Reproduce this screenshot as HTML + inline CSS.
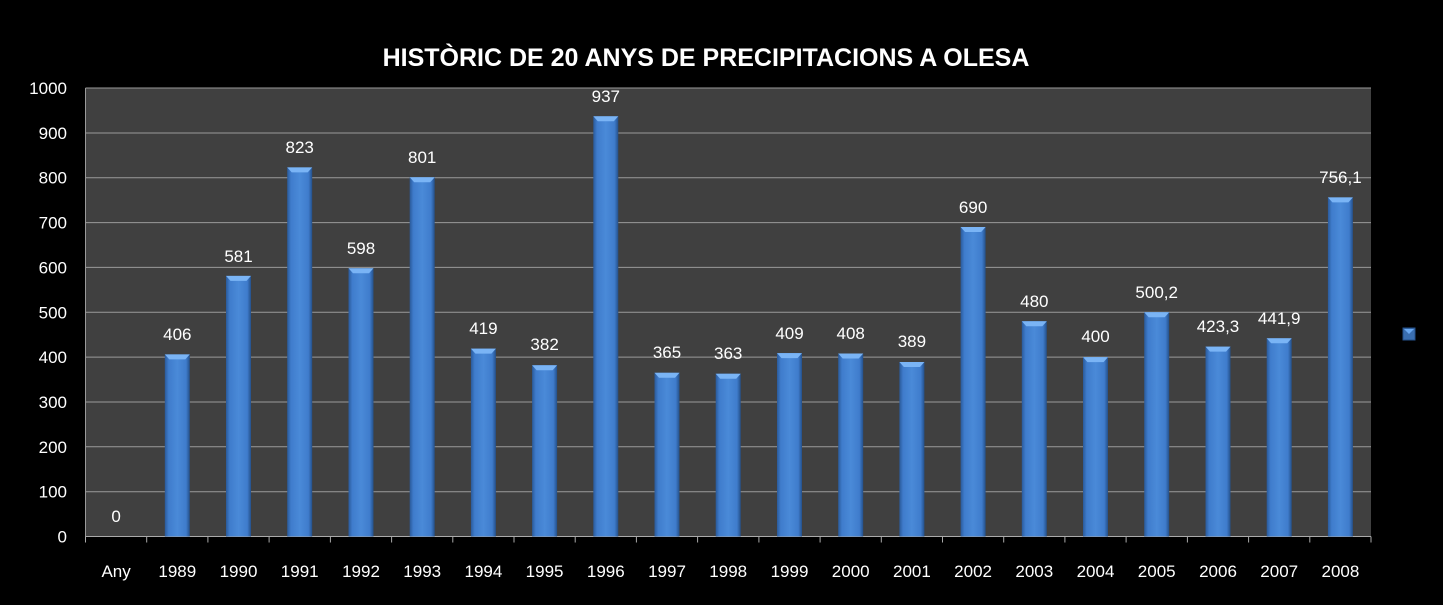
<!DOCTYPE html>
<html><head><meta charset="utf-8"><style>
html,body{margin:0;padding:0;background:#000;}
svg{display:block;font-family:"Liberation Sans",sans-serif;}
</style></head><body>
<svg width="1443" height="605" viewBox="0 0 1443 605" xmlns="http://www.w3.org/2000/svg">
<defs>
<linearGradient id="g" x1="0" x2="1" y1="0" y2="0">
<stop offset="0" stop-color="#2a5a9a"/>
<stop offset="0.15" stop-color="#3f7ccc"/>
<stop offset="0.5" stop-color="#4a8ad8"/>
<stop offset="0.85" stop-color="#3f7ccc"/>
<stop offset="1" stop-color="#24508a"/>
</linearGradient>
</defs>
<rect width="1443" height="605" fill="#000"/>
<rect x="85.5" y="88" width="1285.5" height="448.5" fill="#404040"/>
<g stroke="#9a9a9a" stroke-width="1">
<line x1="85.5" x2="1371" y1="88" y2="88"/>
<line x1="85.5" x2="1371" y1="133" y2="133"/>
<line x1="85.5" x2="1371" y1="177.7" y2="177.7"/>
<line x1="85.5" x2="1371" y1="222.6" y2="222.6"/>
<line x1="85.5" x2="1371" y1="267.4" y2="267.4"/>
<line x1="85.5" x2="1371" y1="312.3" y2="312.3"/>
<line x1="85.5" x2="1371" y1="357.1" y2="357.1"/>
<line x1="85.5" x2="1371" y1="402" y2="402"/>
<line x1="85.5" x2="1371" y1="446.8" y2="446.8"/>
<line x1="85.5" x2="1371" y1="491.7" y2="491.7"/>
<line x1="85.5" x2="1371" y1="536.5" y2="536.5" stroke="#aaa"/>
<line x1="85.5" x2="85.5" y1="88" y2="536.5"/>
</g>
<g stroke="#aaa" stroke-width="1">
<line x1="85.5" x2="85.5" y1="536.5" y2="542.5"/><line x1="146.7" x2="146.7" y1="536.5" y2="542.5"/><line x1="207.9" x2="207.9" y1="536.5" y2="542.5"/><line x1="269.1" x2="269.1" y1="536.5" y2="542.5"/><line x1="330.4" x2="330.4" y1="536.5" y2="542.5"/><line x1="391.6" x2="391.6" y1="536.5" y2="542.5"/><line x1="452.8" x2="452.8" y1="536.5" y2="542.5"/><line x1="514" x2="514" y1="536.5" y2="542.5"/><line x1="575.2" x2="575.2" y1="536.5" y2="542.5"/><line x1="636.4" x2="636.4" y1="536.5" y2="542.5"/><line x1="697.6" x2="697.6" y1="536.5" y2="542.5"/><line x1="758.9" x2="758.9" y1="536.5" y2="542.5"/><line x1="820.1" x2="820.1" y1="536.5" y2="542.5"/><line x1="881.3" x2="881.3" y1="536.5" y2="542.5"/><line x1="942.5" x2="942.5" y1="536.5" y2="542.5"/><line x1="1003.7" x2="1003.7" y1="536.5" y2="542.5"/><line x1="1064.9" x2="1064.9" y1="536.5" y2="542.5"/><line x1="1126.1" x2="1126.1" y1="536.5" y2="542.5"/><line x1="1187.4" x2="1187.4" y1="536.5" y2="542.5"/><line x1="1248.6" x2="1248.6" y1="536.5" y2="542.5"/><line x1="1309.8" x2="1309.8" y1="536.5" y2="542.5"/><line x1="1371" x2="1371" y1="536.5" y2="542.5"/>
</g>
<g fill="url(#g)">
<rect x="164.8" y="354.4" width="25" height="182.1"/>
<rect x="226" y="275.9" width="25" height="260.6"/>
<rect x="287.2" y="167.4" width="25" height="369.1"/>
<rect x="348.5" y="268.3" width="25" height="268.2"/>
<rect x="409.7" y="177.3" width="25" height="359.2"/>
<rect x="470.9" y="348.6" width="25" height="187.9"/>
<rect x="532.1" y="365.2" width="25" height="171.3"/>
<rect x="593.3" y="116.3" width="25" height="420.2"/>
<rect x="654.5" y="372.8" width="25" height="163.7"/>
<rect x="715.7" y="373.7" width="25" height="162.8"/>
<rect x="777" y="353.1" width="25" height="183.4"/>
<rect x="838.2" y="353.5" width="25" height="183"/>
<rect x="899.4" y="362" width="25" height="174.5"/>
<rect x="960.6" y="227" width="25" height="309.5"/>
<rect x="1021.8" y="321.2" width="25" height="215.3"/>
<rect x="1083" y="357.1" width="25" height="179.4"/>
<rect x="1144.2" y="312.2" width="25" height="224.3"/>
<rect x="1205.5" y="346.6" width="25" height="189.9"/>
<rect x="1266.7" y="338.3" width="25" height="198.2"/>
<rect x="1327.9" y="197.4" width="25" height="339.1"/>
</g>
<g fill="#7ab4f5">
<path d="M164.8 354.4h25l-4.5 5h-16z"/>
<path d="M226 275.9h25l-4.5 5h-16z"/>
<path d="M287.2 167.4h25l-4.5 5h-16z"/>
<path d="M348.5 268.3h25l-4.5 5h-16z"/>
<path d="M409.7 177.3h25l-4.5 5h-16z"/>
<path d="M470.9 348.6h25l-4.5 5h-16z"/>
<path d="M532.1 365.2h25l-4.5 5h-16z"/>
<path d="M593.3 116.3h25l-4.5 5h-16z"/>
<path d="M654.5 372.8h25l-4.5 5h-16z"/>
<path d="M715.7 373.7h25l-4.5 5h-16z"/>
<path d="M777 353.1h25l-4.5 5h-16z"/>
<path d="M838.2 353.5h25l-4.5 5h-16z"/>
<path d="M899.4 362h25l-4.5 5h-16z"/>
<path d="M960.6 227h25l-4.5 5h-16z"/>
<path d="M1021.8 321.2h25l-4.5 5h-16z"/>
<path d="M1083 357.1h25l-4.5 5h-16z"/>
<path d="M1144.2 312.2h25l-4.5 5h-16z"/>
<path d="M1205.5 346.6h25l-4.5 5h-16z"/>
<path d="M1266.7 338.3h25l-4.5 5h-16z"/>
<path d="M1327.9 197.4h25l-4.5 5h-16z"/>
</g>
<g fill="#fff" font-size="17" text-anchor="end">
<text x="67" y="542.5">0</text><text x="67" y="497.7">100</text><text x="67" y="452.8">200</text><text x="67" y="408">300</text><text x="67" y="363.1">400</text><text x="67" y="318.3">500</text><text x="67" y="273.4">600</text><text x="67" y="228.6">700</text><text x="67" y="183.7">800</text><text x="67" y="139">900</text><text x="67" y="94">1000</text>
</g>
<g fill="#fff" font-size="17" text-anchor="middle">
<text x="116.1" y="577">Any</text><text x="177.3" y="577">1989</text><text x="238.5" y="577">1990</text><text x="299.7" y="577">1991</text><text x="361" y="577">1992</text><text x="422.2" y="577">1993</text><text x="483.4" y="577">1994</text><text x="544.6" y="577">1995</text><text x="605.8" y="577">1996</text><text x="667" y="577">1997</text><text x="728.2" y="577">1998</text><text x="789.5" y="577">1999</text><text x="850.7" y="577">2000</text><text x="911.9" y="577">2001</text><text x="973.1" y="577">2002</text><text x="1034.3" y="577">2003</text><text x="1095.5" y="577">2004</text><text x="1156.7" y="577">2005</text><text x="1218" y="577">2006</text><text x="1279.2" y="577">2007</text><text x="1340.4" y="577">2008</text>
</g>
<g fill="#fff" font-size="17" text-anchor="middle">
<text x="116.1" y="522">0</text>
<text x="177.3" y="340">406</text>
<text x="238.5" y="262">581</text>
<text x="299.7" y="153">823</text>
<text x="361" y="254">598</text>
<text x="422.2" y="163">801</text>
<text x="483.4" y="334">419</text>
<text x="544.6" y="350">382</text>
<text x="605.8" y="102">937</text>
<text x="667" y="358">365</text>
<text x="728.2" y="359">363</text>
<text x="789.5" y="339">409</text>
<text x="850.7" y="339">408</text>
<text x="911.9" y="347">389</text>
<text x="973.1" y="213">690</text>
<text x="1034.3" y="307">480</text>
<text x="1095.5" y="342">400</text>
<text x="1156.7" y="298">500,2</text>
<text x="1218" y="332">423,3</text>
<text x="1279.2" y="324">441,9</text>
<text x="1340.4" y="183">756,1</text>
</g>
<text x="706" y="66" fill="#fff" font-size="25" font-weight="bold" text-anchor="middle">HISTÒRIC DE 20 ANYS DE PRECIPITACIONS A OLESA</text>
<rect x="1403" y="328" width="12" height="12" fill="#3a6eb0" stroke="#24508a"/>
<path d="M1404 329 L1414 329 L1409 334 Z" fill="#6aa8f0"/>
</svg>
</body></html>
